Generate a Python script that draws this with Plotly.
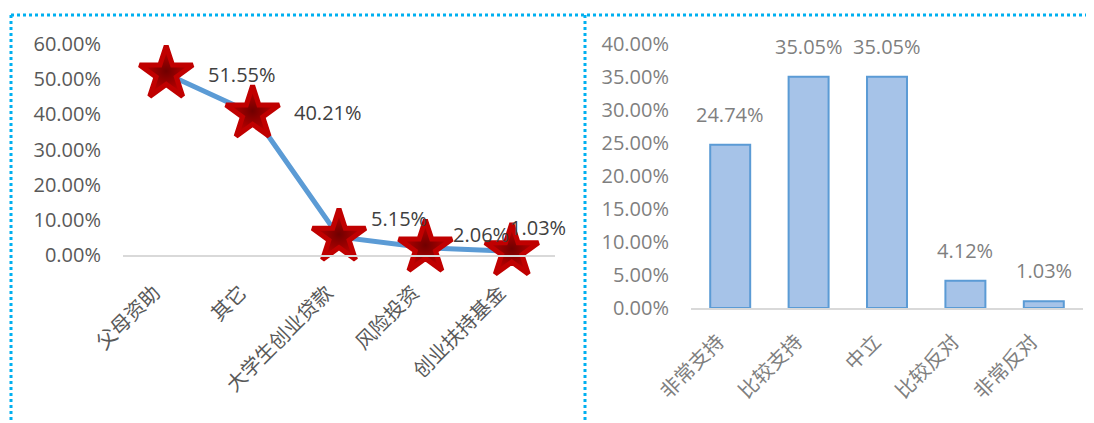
import plotly.graph_objects as go

W, H = 1094, 423
OFF = 8  # page body margin in the browser

# Left chart data
fund_cats = ["父母资助", "其它", "大学生创业贷款", "风险投资", "创业扶持基金"]
fund_vals = [51.55, 40.21, 5.15, 2.06, 1.03]
fund_labels = ["51.55%", "40.21%", "5.15%", "2.06%", "1.03%"]

# Right chart data
att_cats = ["非常支持", "比较支持", "中立", "比较反对", "非常反对"]
att_vals = [24.74, 35.05, 35.05, 4.12, 1.03]
att_labels = ["24.74%", "35.05%", "35.05%", "4.12%", "1.03%"]

left_ticks = [0, 10, 20, 30, 40, 50, 60]
right_ticks = [0, 5, 10, 15, 20, 25, 30, 35, 40]

NUM_FONT = "Open Sans"
CJK_FONT = "Noto Sans CJK SC"

def px_x(p):
    return (p - OFF) / W

def px_y(p):
    return 1 - (p - OFF) / H

fig = go.Figure()

fig.add_trace(go.Scatter(
    x=fund_cats, y=fund_vals, mode="lines+markers",
    line=dict(color="#5b9bd5", width=5),
    marker=dict(symbol="star", size=40, color="#c80000",
                gradient=dict(type="radial", color="#700000"),
                line=dict(color="#c00000", width=5)),
    cliponaxis=False, xaxis="x", yaxis="y", hoverinfo="skip",
))

fig.add_trace(go.Bar(
    x=att_cats, y=att_vals, width=0.51,
    marker=dict(color="#a6c3e8", line=dict(color="#5b9bd5", width=2)),
    xaxis="x2", yaxis="y2", hoverinfo="skip",
))

NUM_SIZE = 20

# data label offsets (pixels) for left chart
l_xshift = [40, 39, 30, 26, -4]
l_yshift = [-1, 1, 18, 13, 24]
for c, v, t, dx, dy in zip(fund_cats, fund_vals, fund_labels, l_xshift, l_yshift):
    fig.add_annotation(x=c, y=v, text=t, xref="x", yref="y", showarrow=False,
                       xanchor="left", yanchor="middle", xshift=dx, yshift=dy,
                       font=dict(family=NUM_FONT, size=NUM_SIZE, color="#404040"))

for c, v, t in zip(att_cats, att_vals, att_labels):
    fig.add_annotation(x=c, y=v, text=t, xref="x2", yref="y2", showarrow=False,
                       xanchor="center", yanchor="bottom", yshift=15,
                       font=dict(family=NUM_FONT, size=NUM_SIZE, color="#7f7f7f"))

tickfont_num_l = dict(family=NUM_FONT, size=NUM_SIZE, color="#595959")
tickfont_num_r = dict(family=NUM_FONT, size=NUM_SIZE, color="#7f7f7f")
tickfont_cjk_l = dict(family=CJK_FONT, size=20, color="#595959")
tickfont_cjk_r = dict(family=CJK_FONT, size=20, color="#7f7f7f")

fig.update_layout(
    template="none",
    width=W, height=H, margin=dict(l=0, r=0, t=0, b=0, autoexpand=False),
    paper_bgcolor="white", plot_bgcolor="white", showlegend=False,
    xaxis=dict(domain=[px_x(123), px_x(555)], anchor="y", type="category",
               range=[-0.5, len(fund_cats) - 0.5],
               showgrid=False, showline=True, linecolor="#d9d9d9", linewidth=2,
               ticks="", tickangle=-45, tickfont=tickfont_cjk_l, zeroline=False,
               automargin=False, ticklabelstandoff=16, ticklabelshift=-12),
    yaxis=dict(domain=[px_y(255), px_y(44)], anchor="x", range=[0, 60],
               tickvals=left_ticks, ticktext=[f"{t:.2f}%" for t in left_ticks],
               showgrid=False, zeroline=False, showline=False, ticks="",
               tickfont=tickfont_num_l, automargin=False, ticklabelstandoff=21),
    xaxis2=dict(domain=[px_x(691), px_x(1083)], anchor="y2", type="category",
                range=[-0.5, len(att_cats) - 0.5],
                showgrid=False, showline=True, linecolor="#d9d9d9", linewidth=2,
                ticks="", tickangle=-45, tickfont=tickfont_cjk_r, zeroline=False,
                automargin=False, ticklabelstandoff=12, ticklabelshift=-12),
    yaxis2=dict(domain=[px_y(308), px_y(44)], anchor="x2", range=[0, 40],
                tickvals=right_ticks, ticktext=[f"{t:.2f}%" for t in right_ticks],
                showgrid=False, zeroline=False, showline=False, ticks="",
                tickfont=tickfont_num_r, automargin=False, ticklabelstandoff=21),
)

# dotted blue panel borders
border = dict(color="#00b0f0", width=3, dash="dot")
fig.add_shape(type="line", xref="paper", yref="paper",
              x0=px_x(11), x1=1, y0=px_y(15), y1=px_y(15), line=border)
fig.add_shape(type="line", xref="paper", yref="paper",
              x0=px_x(11), x1=px_x(11), y0=px_y(15), y1=0, line=border)
fig.add_shape(type="line", xref="paper", yref="paper",
              x0=px_x(585), x1=px_x(585), y0=px_y(15), y1=0, line=border)

fig.write_html("out.html")
